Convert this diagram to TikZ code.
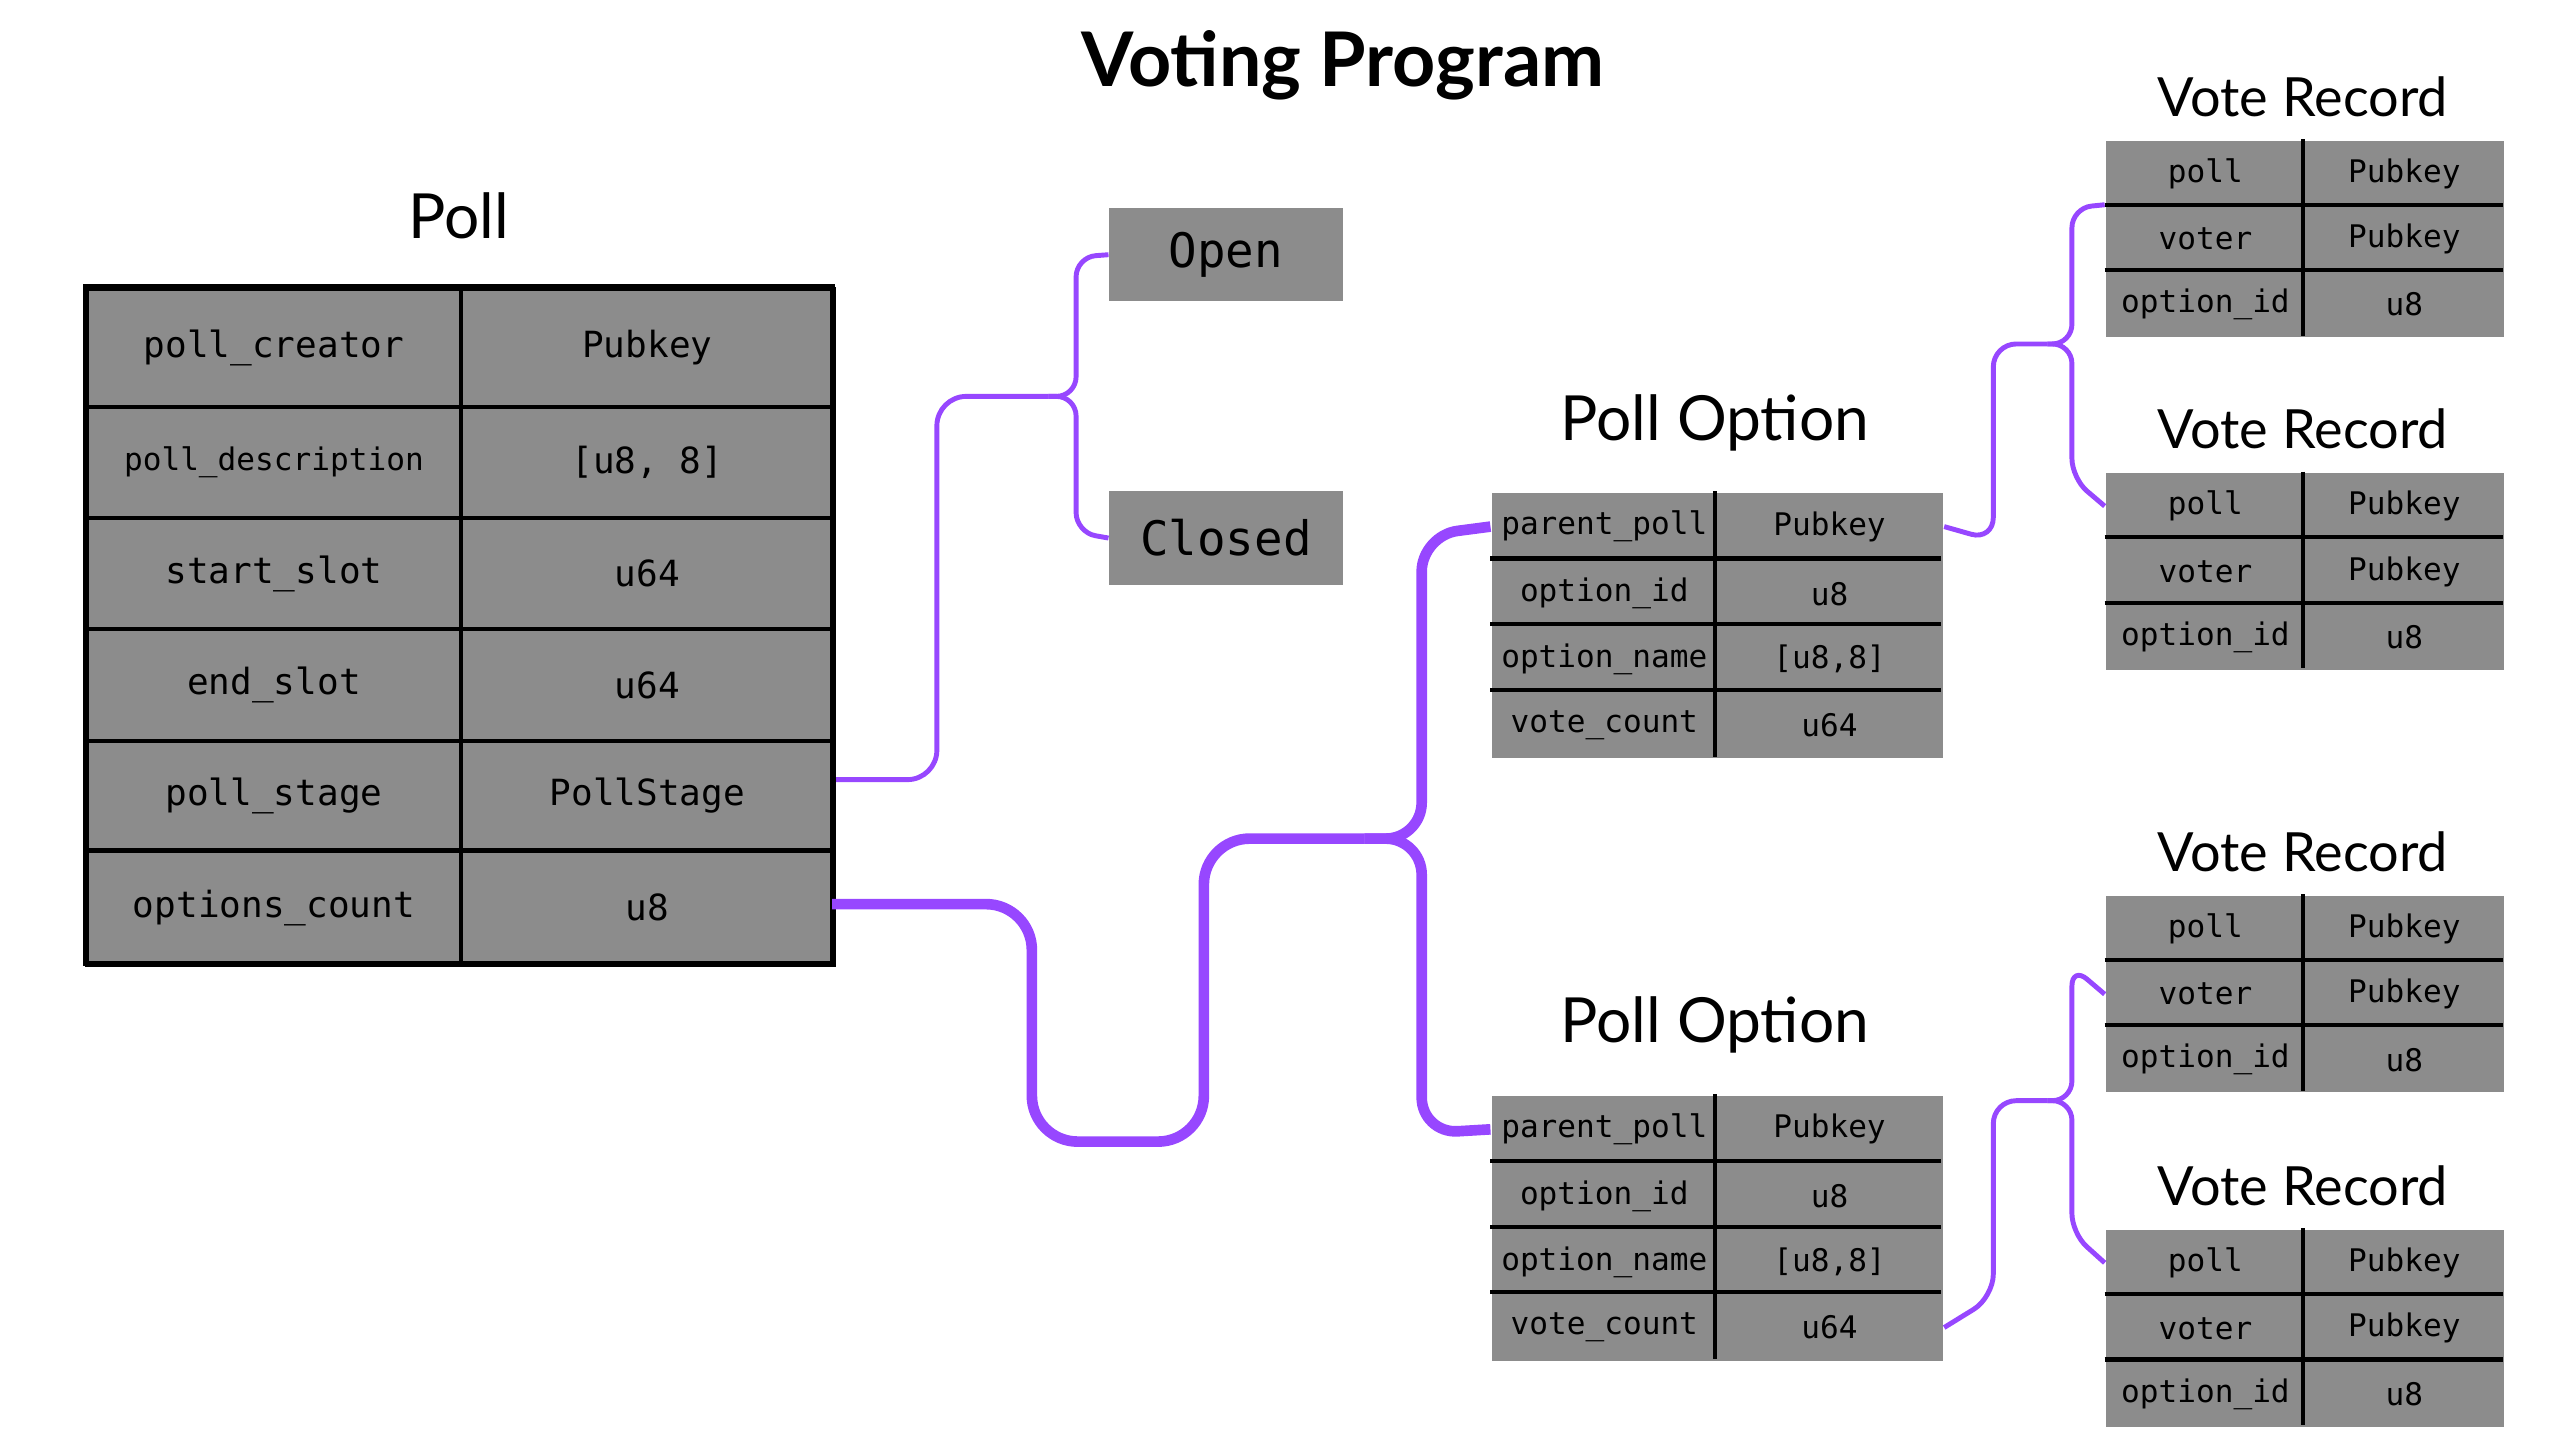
\documentclass[tikz,border=0pt]{standalone}
\usepackage{fontspec}
\setmainfont{Lato}
\setmonofont{DejaVu Sans Mono}
\begin{document}
\begin{tikzpicture}[x=1pt,y=-1pt,
  cell/.style={draw=black,line width=2.5pt,fill=cellgray,inner sep=0pt,anchor=north west},
  scell/.style={draw=black,line width=2pt,fill=cellgray,inner sep=0pt,anchor=north west,font=\ttfamily\fontsize{19}{19}\selectfont},
  state/.style={fill=cellgray,inner sep=0pt,minimum width=143pt,minimum height=57pt,font=\ttfamily\fontsize{29}{29}\selectfont},
  head/.style={font=\fontsize{38}{38}\selectfont},
  thin/.style={draw=conn,line width=3pt,rounded corners=18pt},
  thick/.style={draw=conn,line width=6.5pt,rounded corners=28pt}]
\definecolor{cellgray}{HTML}{8C8C8C}
\definecolor{conn}{HTML}{9747FF}
\useasboundingbox (0,0) rectangle (1563,879);
\node[font=\bfseries\fontsize{46}{46}\selectfont] (title) at (820,40) {Voting Program};
% Poll table
\node[head] (pollh) at (280,132) {Poll};
\foreach \n/\a/\b/\ya/\yb/\fs in {1/poll\_creator/Pubkey/175/247/22,2/poll\_description/{[u8, 8]}/247/315/19,3/start\_slot/u64/315/383/22,4/end\_slot/u64/383/451/22,5/poll\_stage/PollStage/451/518/22,6/options\_count/u8/518/588/22}{
  \node[cell,minimum width=228pt,minimum height={\yb-\ya},font=\ttfamily\fontsize{\fs}{\fs}\selectfont] (p\n a) at (52,\ya) {\a};
  \node[cell,minimum width=228pt,minimum height={\yb-\ya},font=\ttfamily\fontsize{22}{22}\selectfont] (p\n b) at (280,\ya) {\b};
}
\draw[line width=3pt] (52,175) rectangle (508,588);
% states
\node[state] (open) at (748.5,155.5) {Open};
\node[state] (closed) at (748.5,328.5) {Closed};
% poll options
\foreach \o/\y in {1/300,2/668}{
  \node[head] (oh\o) at (1047,\y-42) {Poll Option};
  \foreach \r/\a/\b/\d in {1/parent\_poll/Pubkey/0,2/option\_id/u8/41,3/option\_name/{[u8,8]}/81,4/vote\_count/u64/121}{
    \node[scell,draw=none,minimum width=137pt,minimum height=41pt] (o\o r\r a) at (910,\y+\d) {\a};
    \node[scell,draw=none,minimum width=138pt,minimum height=41pt] (o\o r\r b) at (1047,\y+\d) {\b};
  }
  \draw[line width=2.5pt] (1047,\y) -- (1047,\y+162);
  \foreach \d in {41,81,121}{\draw[line width=2.5pt] (910,\y+\d) -- (1185,\y+\d);}
}
% vote records
\foreach \v/\y in {1/85,2/288,3/546,4/750}{
  \node[head,font=\fontsize{33}{33}\selectfont] (vh\v) at (1406,\y-26) {Vote Record};
  \foreach \r/\a/\b/\d in {1/poll/Pubkey/0,2/voter/Pubkey/40,3/option\_id/u8/80}{
    \node[scell,draw=none,minimum width=121pt,minimum height=40pt] (v\v r\r a) at (1285,\y+\d) {\a};
    \node[scell,draw=none,minimum width=122pt,minimum height=40pt] (v\v r\r b) at (1406,\y+\d) {\b};
  }
  \draw[line width=2.5pt] (1406,\y) -- (1406,\y+120);
  \foreach \d in {40,80}{\draw[line width=2.5pt] (1285,\y+\d) -- (1528,\y+\d);}
}
% connectors
\coordinate (b1) at (640,242);
\draw[thin] (p5b.east |- 0,476) -- (572,476) -- (572,242) -- (b1);
\draw[thin,rounded corners=12pt] (b1) -- (657,242) -- (657,157) -- (open.west);
\draw[thin,rounded corners=12pt] (b1) -- (657,242) -- (657,325) -- (closed.west);
\coordinate (b2) at (833,512);
\draw[thick] (508,552) -- (630,552) -- (630,697) -- (735,697) -- (735,512) -- (b2);
\draw[thick,rounded corners=22pt] (b2) -- (868,512) -- (868,327) -- (o1r1a.west);
\draw[thick,rounded corners=22pt] (b2) -- (868,512) -- (868,692) -- (o2r1a.west);
\coordinate (b3) at (1250,210);
\draw[thin,rounded corners=14pt] (o1r1b.east) -- (1217,330) -- (1217,210) -- (b3);
\draw[thin,rounded corners=12pt] (b3) -- (1265,210) -- (1265,127) -- (v1r2a.north west);
\draw[thin,rounded corners=12pt] (b3) -- (1265,210) -- (1265,292) -- (v2r1a.west);
\coordinate (b4) at (1250,672);
\draw[thin,rounded corners=14pt] (o2r4b.east) -- (1217,792) -- (1217,672) -- (b4);
\draw[thin,rounded corners=12pt] (b4) -- (1265,672) -- (1265,590) -- (v3r2a.west);
\draw[thin,rounded corners=12pt] (b4) -- (1265,672) -- (1265,753) -- (v4r1a.west);
\end{tikzpicture}
\end{document}
